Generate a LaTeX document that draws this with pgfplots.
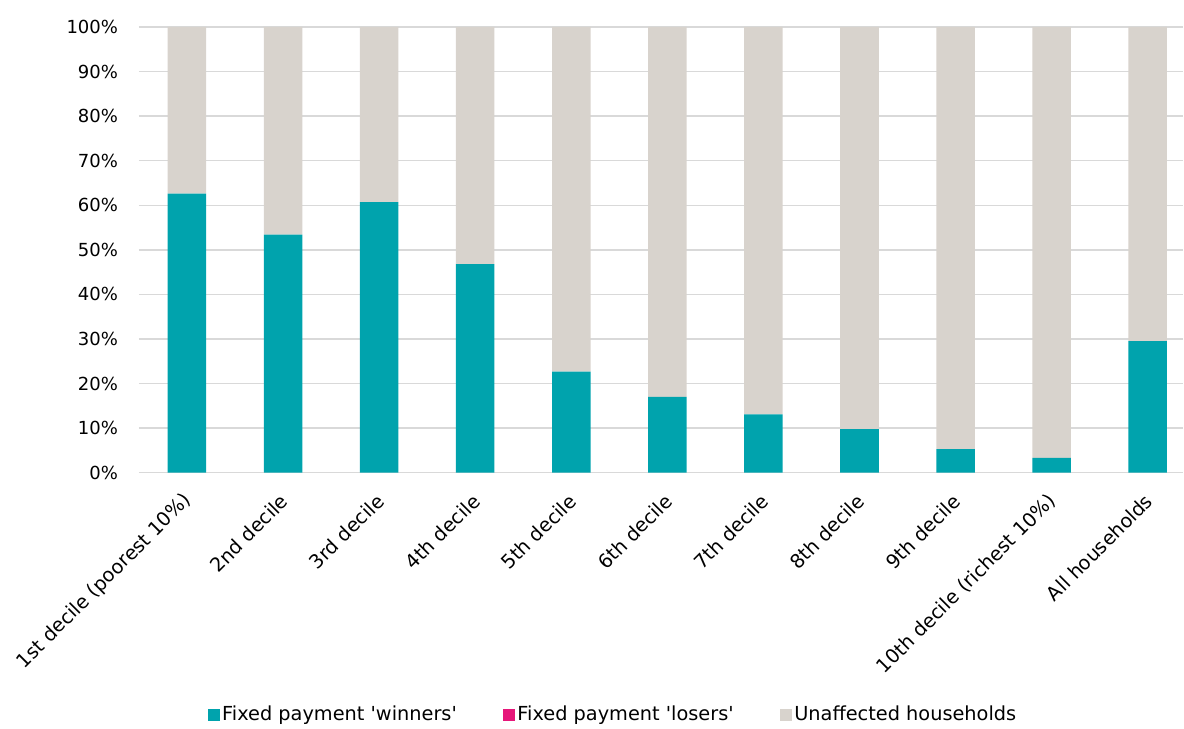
\documentclass[border=0pt]{standalone}
\usepackage{pgfplots}
\pgfplotsset{compat=1.18}
\usepackage{pgfplotstable}
\usepackage{fontspec}
\setmainfont{DejaVu Sans}[Ligatures=TeXOff]
\definecolor{winners}{HTML}{00A3AD}
\definecolor{losers}{HTML}{E6177A}
\definecolor{unaffected}{HTML}{D8D3CD}
\definecolor{gridgrey}{HTML}{D9D9D9}

% share of households by decile (%)
\pgfplotstableread{
x win lose unaff
0 62.6 0 37.4
1 53.4 0 46.6
2 60.7 0 39.3
3 46.8 0 53.2
4 22.7 0 77.3
5 17.0 0 83.0
6 13.1 0 86.9
7 9.8 0 90.2
8 5.3 0 94.7
9 3.3 0 96.7
10 29.5 0 70.5
}\datatable

\begin{document}
\begin{tikzpicture}
  \begin{axis}[
    scale only axis, width=783.75pt, height=334.5pt,
    ybar stacked, bar width=28.9pt,
    xmin=-0.5, xmax=10.37, ymin=0, ymax=100,
    clip=false,
    axis line style={draw=none},
    major tick length=0pt,
    ymajorgrids, grid style={gridgrey, line width=1.1pt},
    ytick={0,10,...,100},
    yticklabels={0\%,10\%,20\%,30\%,40\%,50\%,60\%,70\%,80\%,90\%,100\%},
    yticklabel style={font=\fontsize{13.5}{15}\selectfont, inner sep=0pt, xshift=-15.5pt},
    xtick={0,...,10},
    xticklabels={1st decile (poorest 10\%),2nd decile,3rd decile,4th decile,5th decile,
      6th decile,7th decile,8th decile,9th decile,10th decile (richest 10\%),All households},
    xticklabel style={font=\fontsize{14.5}{16}\selectfont, rotate=45, anchor=east,
      inner sep=0pt, xshift=-12.5pt, yshift=-14pt},
    legend columns=3,
    legend cell align=left,
    legend style={at={(0.4545,-0.5426)}, anchor=center, draw=none,
      font=\fontsize{14.5}{16}\selectfont,
      /tikz/every even column/.append style={column sep=33pt}},
    legend image code/.code={\fill[#1] (0pt,-4.5pt) rectangle (8.5pt,4.5pt);},
  ]
    \addplot[fill=winners, draw=none] table[x=x, y=win] {\datatable};
    \addlegendentry{Fixed payment 'winners'}
    \addplot[fill=losers, draw=none] table[x=x, y=lose] {\datatable};
    \addlegendentry{Fixed payment 'losers'}
    \addplot[fill=unaffected, draw=none] table[x=x, y=unaff] {\datatable};
    \addlegendentry{Unaffected households}
    \path (rel axis cs:-0.133,1.0605) rectangle (rel axis cs:1,-0.5673);
  \end{axis}
\end{tikzpicture}
\end{document}
